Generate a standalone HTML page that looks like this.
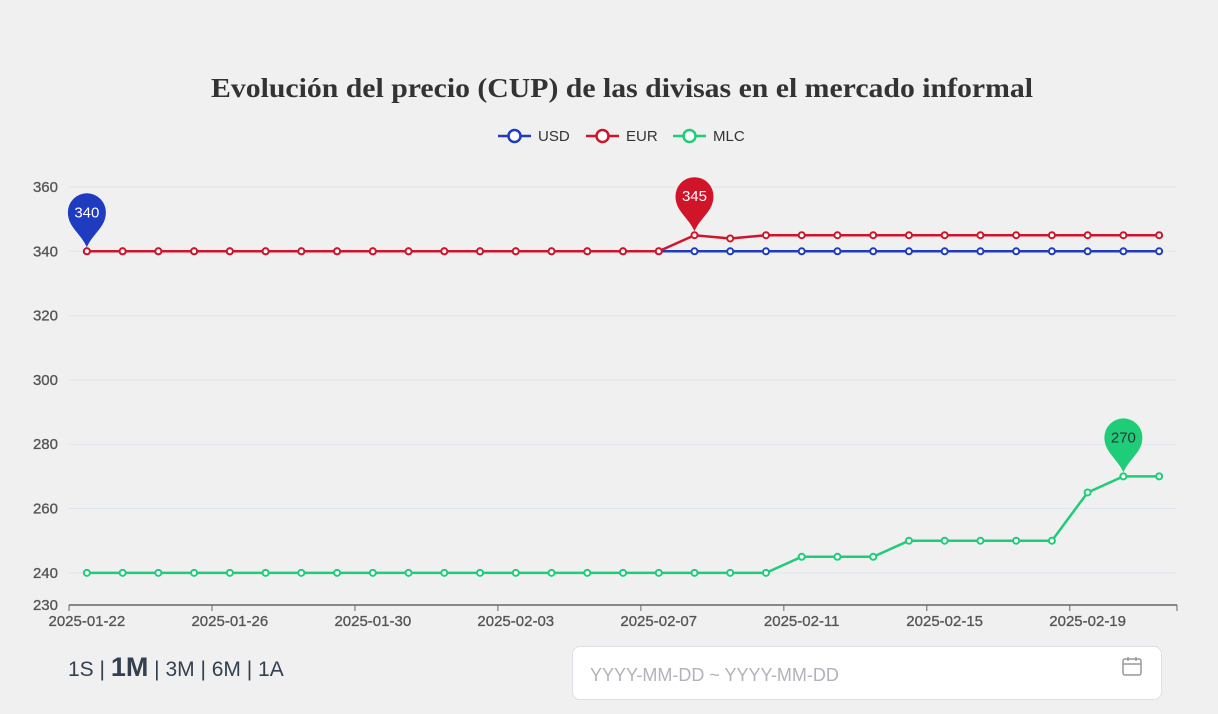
<!DOCTYPE html>
<html><head><meta charset="utf-8"><style>
body{margin:0;width:1218px;height:714px;background:#f0f0f0;overflow:hidden;font-family:"Liberation Sans",sans-serif}
#sel{position:absolute;left:68px;top:652px;font-size:21px;color:#33404f}
#sel b{font-size:27px}
#date{position:absolute;left:572px;top:646px;width:590px;height:54px;border:1px solid #dcdfe6;border-radius:8px;background:#fff;box-sizing:border-box}
#date span{position:absolute;left:17px;top:18px;font-size:18px;color:#b0b3b9}
</style></head><body>
<svg id="chart" width="1218" height="714" style="position:absolute;left:0;top:0">
<text x="211" y="97" textLength="822" lengthAdjust="spacingAndGlyphs" font-family="Liberation Serif,serif" font-weight="bold" font-size="27" fill="#333">Evolución del precio (CUP) de las divisas en el mercado informal</text>
<g id="legend"></g><g id="grid"></g><g id="series"></g>
</svg>
<div id="sel">1S | <b>1M</b> | 3M | 6M | 1A</div>
<div id="date"><span>YYYY-MM-DD ~ YYYY-MM-DD</span>
<svg style="position:absolute;right:18px;top:8px" width="22" height="22" viewBox="0 0 22 22"><rect x="2" y="4" width="18" height="16" rx="2" fill="none" stroke="#999" stroke-width="1.5"/><line x1="2" y1="9" x2="20" y2="9" stroke="#999" stroke-width="1.5"/><line x1="7" y1="2" x2="7" y2="6" stroke="#999" stroke-width="1.5"/><line x1="15" y1="2" x2="15" y2="6" stroke="#999" stroke-width="1.5"/></svg></div>
<script>
const dates=["2025-01-22","2025-01-23","2025-01-24","2025-01-25","2025-01-26","2025-01-27","2025-01-28","2025-01-29","2025-01-30","2025-01-31","2025-02-01","2025-02-02","2025-02-03","2025-02-04","2025-02-05","2025-02-06","2025-02-07","2025-02-08","2025-02-09","2025-02-10","2025-02-11","2025-02-12","2025-02-13","2025-02-14","2025-02-15","2025-02-16","2025-02-17","2025-02-18","2025-02-19","2025-02-20","2025-02-21"];
const usd=[340,340,340,340,340,340,340,340,340,340,340,340,340,340,340,340,340,340,340,340,340,340,340,340,340,340,340,340,340,340,340];
const eur=[340,340,340,340,340,340,340,340,340,340,340,340,340,340,340,340,340,345,344,345,345,345,345,345,345,345,345,345,345,345,345];
const mlc=[240,240,240,240,240,240,240,240,240,240,240,240,240,240,240,240,240,240,240,240,245,245,245,250,250,250,250,250,265,270,270];
const yTicks=[240,260,280,300,320,340,360];
const NS="http://www.w3.org/2000/svg";
const X0=69,X1=1177,yMin=230,yMax=360,Y0=605,Ytop=187;
const bw=(X1-X0)/dates.length;
const x=i=>X0+bw*(i+0.5);
const y=v=>Y0-(v-yMin)/(yMax-yMin)*(Y0-Ytop);
function mk(t,a,p){const e=document.createElementNS(NS,t);for(const k in a)e.setAttribute(k,a[k]);p.appendChild(e);return e;}
const grid=document.getElementById('grid');
yTicks.forEach(v=>{
 const l=mk('line',{x1:X0,x2:X1,y1:y(v),y2:y(v),stroke:'#dde5ee'},grid);
 
 
 const t=mk('text',{x:58,y:y(v)+5,'text-anchor':'end','font-size':15,fill:'#555','stroke':'#555','stroke-width':0.3},grid);t.textContent=v;
 
 
});
const t0=mk('text',{x:58,y:Y0+5,'text-anchor':'end','font-size':15,fill:'#555','stroke':'#555','stroke-width':0.3},grid);t0.textContent=yMin;


const ax=mk('line',{x1:X0,x2:X1,y1:Y0,y2:Y0,stroke:'#666','stroke-width':1.5},grid);


dates.forEach((d,i)=>{
 if(i%4==0){
  mk('line',{x1:X0+bw*i,x2:X0+bw*i,y1:Y0,y2:Y0+6,stroke:'#666'},grid);
  const t=mk('text',{x:x(i),y:Y0+21,'text-anchor':'middle','font-size':15,fill:'#555','stroke':'#555','stroke-width':0.3},grid);t.textContent=d;
  
  
 }
});
mk('line',{x1:X1,x2:X1,y1:Y0,y2:Y0+6,stroke:'#666'},grid);
const S=document.getElementById('series');
function series(arr,col,name){
 const g=mk('g',{},S);
 
 
 mk('polyline',{points:arr.map((v,i)=>x(i)+','+y(v)).join(' '),fill:'none',stroke:col,'stroke-width':2.5},g);
 arr.forEach((v,i)=>{const c=mk('circle',{cx:x(i),cy:y(v),r:3,fill:'#fff',stroke:col,'stroke-width':2},g);
  
  });
}
series(mlc,'#1fcc78','mlc');series(usd,'#1f3bbf','usd');series(eur,'#d0142a','eur');
function pin(i,v,col,tc){
 const px=x(i),py=y(v)-4;
 const g=mk('g',{},S);
 
 
 mk('path',{d:`M${px},${py} C${px-6},${py-14} ${px-19},${py-20} ${px-19},${py-35} A19,19 0 1 1 ${px+19},${py-35} C${px+19},${py-20} ${px+6},${py-14} ${px},${py} Z`,fill:col},g);
 const t=mk('text',{x:px,y:py-30,'text-anchor':'middle','font-size':15,fill:tc},g);t.textContent=v;
}
const im=arr=>arr.indexOf(Math.max(...arr));
pin(im(usd),Math.max(...usd),'#1f3bbf','#fff');
pin(im(eur),Math.max(...eur),'#d0142a','#fff');
pin(im(mlc),Math.max(...mlc),'#1fcc78','#333');
const L=document.getElementById('legend');
[['USD','#1f3bbf',498],['EUR','#d0142a',586],['MLC','#1fcc78',673]].forEach(([n,c,lx])=>{
 const g=mk('g',{},L);
 
 
 mk('line',{x1:lx,x2:lx+33,y1:136,y2:136,stroke:c,'stroke-width':2.5},g);
 mk('circle',{cx:lx+16.5,cy:136,r:6,fill:'#fff',stroke:c,'stroke-width':2.5},g);
 const t=mk('text',{x:lx+40,y:141,'font-size':15,fill:'#333'},g);t.textContent=n;
});
</script>
</body></html>
